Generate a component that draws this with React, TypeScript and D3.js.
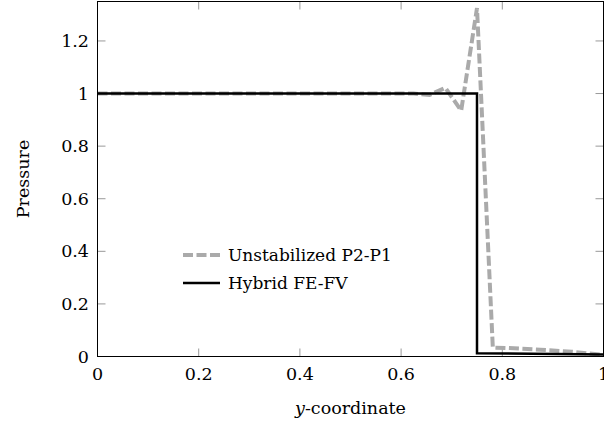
import React from "react";
import * as d3 from "d3";

const unstabX = [0, 0.625, 0.65625, 0.6875, 0.71875, 0.75, 0.78125, 0.8125, 0.875, 0.9375, 1];
const unstabY = [1.0, 1.0, 0.995, 1.022, 0.935, 1.325, 0.034, 0.032, 0.026, 0.018, 0.006];
const hybridX = [0, 0.75, 0.75, 1];
const hybridY = [1.0, 1.0, 0.012, 0.008];
const xTicks = [0, 0.2, 0.4, 0.6, 0.8, 1];
const yTicks = [0, 0.2, 0.4, 0.6, 0.8, 1, 1.2];
const seriesNames = ["Unstabilized P2-P1", "Hybrid FE-FV"];

const W = 604, H = 429;
const L = 97.5, R = 603.5, T = 1.5, B = 356.5;
const FONT = "DejaVu Serif";

export default function App() {
  const x = d3.scaleLinear().domain([0, 1]).range([L, R]);
  const y = d3.scaleLinear().domain([0, 1.35]).range([B, T]);
  const line = d3.line<[number, number]>().x(d => x(d[0])).y(d => y(d[1]));
  const u: [number, number][] = unstabX.map((v, i) => [v, unstabY[i]]);
  const h: [number, number][] = hybridX.map((v, i) => [v, hybridY[i]]);
  const tickLen = 8;
  const fmt = (v: number) => (v === 0 ? "0" : v === 1 ? "1" : String(v));
  return (
    <svg width={W} height={H} style={{ position: "absolute", left: 0, top: 0, background: "#fff" }}
      fontFamily={FONT}>
      <defs>
        <clipPath id="pc"><rect x={L} y={T} width={R - L} height={B - T} /></clipPath>
      </defs>
      {xTicks.map(t => (
        <g key={"x" + t}>
          <line x1={x(t)} x2={x(t)} y1={B} y2={B - tickLen} stroke="#999" strokeWidth={1} />
          <line x1={x(t)} x2={x(t)} y1={T} y2={T + tickLen} stroke="#999" strokeWidth={1} />
          <text x={x(t)} y={380} fontSize={17.5} textAnchor="middle">{fmt(t)}</text>
        </g>
      ))}
      {yTicks.map(t => (
        <g key={"y" + t}>
          <line x1={L} x2={L + tickLen} y1={y(t)} y2={y(t)} stroke="#999" strokeWidth={1} />
          <line x1={R} x2={R - tickLen} y1={y(t)} y2={y(t)} stroke="#999" strokeWidth={1} />
          <text x={89} y={y(t)} dy="0.35em" fontSize={17.5} textAnchor="end">{fmt(t)}</text>
        </g>
      ))}
      <g clipPath="url(#pc)">
        <path d={line(u) || ""} fill="none" stroke="#aaaaaa" strokeWidth={4} strokeDasharray="10,3.5" strokeMiterlimit={8} />
        <path d={line(h) || ""} fill="none" stroke="#000" strokeWidth={2.5} />
      </g>
      <rect x={L} y={T} width={R - L} height={B - T} fill="none" stroke="#000" strokeWidth={1} />
      <g>
        <line x1={183} x2={220} y1={255} y2={255} stroke="#aaaaaa" strokeWidth={4} strokeDasharray="10,3.5" />
        <text x={228} y={255} dy="0.35em" fontSize={17}>{seriesNames[0]}</text>
        <line x1={183} x2={220} y1={283} y2={283} stroke="#000" strokeWidth={2.5} />
        <text x={228} y={283} dy="0.35em" fontSize={17}>{seriesNames[1]}</text>
      </g>
      <text transform={`translate(23,${(T + B) / 2}) rotate(-90)`} textAnchor="middle" dy="0.35em" fontSize={17.5}>Pressure</text>
      <text x={(L + R) / 2} y={414} textAnchor="middle" fontSize={17.5}>
        <tspan fontStyle="italic">y</tspan>-coordinate
      </text>
    </svg>
  );
}
